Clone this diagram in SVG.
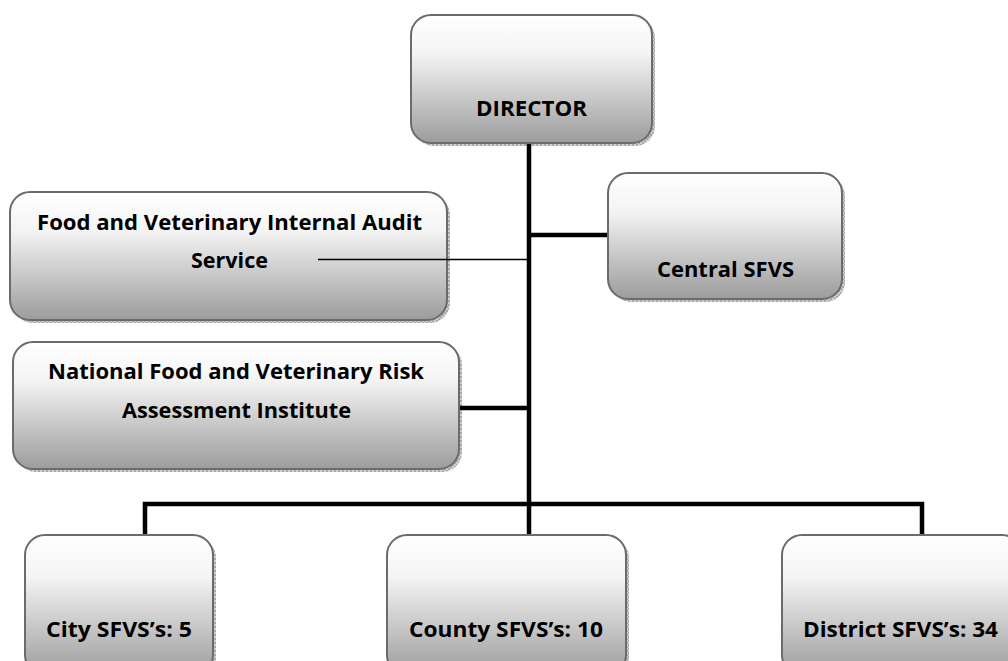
<svg xmlns="http://www.w3.org/2000/svg" width="1008" height="661" viewBox="0 0 1008 661">
<defs>
<linearGradient id="g" x1="0" y1="0" x2="0" y2="1">
<stop offset="0" stop-color="#ffffff"/>
<stop offset="0.3" stop-color="#f4f4f4"/>
<stop offset="1" stop-color="#9c9c9c"/>
</linearGradient>
<pattern id="hatch" width="4" height="4" patternUnits="userSpaceOnUse">
<rect width="4" height="4" fill="#d0d0d0"/>
<rect width="2" height="2" fill="#a8a8a8"/>
<rect x="2" y="2" width="2" height="2" fill="#a8a8a8"/>
</pattern>
</defs>
<style>
.sh{fill:url(#hatch);}
.bx{fill:url(#g);stroke:#6b6b6b;stroke-width:2;}
.t{font-family:"Open Sans","Noto Sans","Liberation Sans",sans-serif;font-weight:bold;font-size:21px;fill:#000;text-anchor:middle;}
.c{stroke:#000;stroke-width:4.5;fill:none;}
.thin{stroke:#000;stroke-width:1.3;fill:none;}
</style>
<rect width="1008" height="661" fill="#fff"/>
<g id="director">
<rect class="sh" x="414" y="18" width="241" height="128" rx="20"/>
<rect class="bx" x="411" y="15" width="241" height="128" rx="20"/>
<text class="t" x="531.5" y="116" textLength="111" lengthAdjust="spacingAndGlyphs">DIRECTOR</text>
</g>
<g id="audit">
<rect class="sh" x="13" y="195" width="437" height="128" rx="20"/>
<rect class="bx" x="10" y="192" width="437" height="128" rx="20"/>
<text class="t" x="229.5" y="230" textLength="385" lengthAdjust="spacingAndGlyphs">Food and Veterinary Internal Audit</text>
<text class="t" x="229.5" y="268" textLength="77" lengthAdjust="spacingAndGlyphs">Service</text>
</g>
<g id="central">
<rect class="sh" x="611" y="176" width="234" height="126" rx="20"/>
<rect class="bx" x="608" y="173" width="234" height="126" rx="20"/>
<text class="t" x="725.5" y="277" textLength="137" lengthAdjust="spacingAndGlyphs">Central SFVS</text>
</g>
<g id="risk">
<rect class="sh" x="16" y="345" width="446" height="127" rx="20"/>
<rect class="bx" x="13" y="342" width="446" height="127" rx="20"/>
<text class="t" x="236" y="379" textLength="376" lengthAdjust="spacingAndGlyphs">National Food and Veterinary Risk</text>
<text class="t" x="236.5" y="418" textLength="229" lengthAdjust="spacingAndGlyphs">Assessment Institute</text>
</g>
<g id="city">
<rect class="sh" x="28" y="538" width="188" height="140" rx="20"/>
<rect class="bx" x="25" y="535" width="188" height="140" rx="20"/>
<text class="t" x="119" y="637" textLength="146" lengthAdjust="spacingAndGlyphs">City SFVS’s: 5</text>
</g>
<g id="county">
<rect class="sh" x="390" y="538" width="239" height="140" rx="20"/>
<rect class="bx" x="387" y="535" width="239" height="140" rx="20"/>
<text class="t" x="506" y="637" textLength="194" lengthAdjust="spacingAndGlyphs">County SFVS’s: 10</text>
</g>
<g id="district">
<rect class="sh" x="785" y="538" width="240" height="140" rx="20"/>
<rect class="bx" x="782" y="535" width="240" height="140" rx="20"/>
<text class="t" x="900.5" y="637" textLength="195" lengthAdjust="spacingAndGlyphs">District SFVS’s: 34</text>
</g>
<g id="connectors">
<line class="c" x1="529" y1="144" x2="529" y2="534"/>
<line class="c" x1="529" y1="235" x2="607" y2="235"/>
<line class="thin" x1="318" y1="259.5" x2="528" y2="259.5"/>
<line class="c" x1="460" y1="408" x2="529" y2="408"/>
<polyline class="c" points="145,534 145,504 922,504 922,534"/>
</g>
</svg>
